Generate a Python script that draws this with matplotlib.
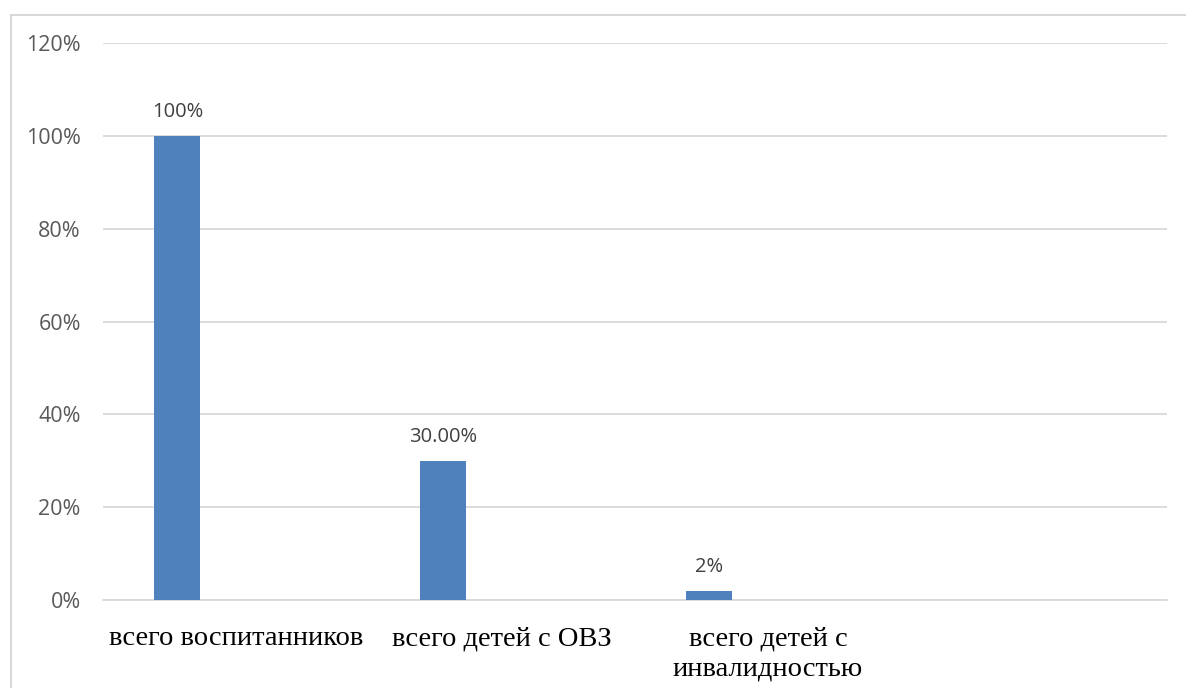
import matplotlib
matplotlib.use("Agg")
import matplotlib.pyplot as plt
from matplotlib.patches import Rectangle

categories = ["всего воспитанников", "всего детей с ОВЗ", "всего детей с\nинвалидностью", ""]
values = [1.00, 0.30, 0.02, None]
value_labels = ["100%", "30.00%", "2%", ""]
yticks = [0, 0.2, 0.4, 0.6, 0.8, 1.0, 1.2]
ytick_labels = ["0%", "20%", "40%", "60%", "80%", "100%", "120%"]

W, H = 1186, 688
fig = plt.figure(figsize=(W/100, H/100), dpi=100)
fig.patch.set_facecolor("white")
# outer chart border
fig.patches.append(Rectangle((10.5/W, -0.01), 1.2, (H-14.5)/H + 0.01, transform=fig.transFigure,
                             fill=False, edgecolor="#d9d9d9", linewidth=1.5))

ax = fig.add_axes([103/W, (H-600)/H, (1167-103)/W, (600-43)/H])
xs = list(range(len(categories)))
offset = -0.22
bw = 0.173
for i, v in enumerate(values):
    if v is None:
        continue
    ax.bar(i + offset, v, width=bw, color="#4f81bd", zorder=3)
    ax.text(i + offset, v + 0.03, value_labels[i], ha="center", va="bottom",
            fontsize=14.5, color="#404040", family="Open Sans")

ax.set_xlim(-0.5, len(categories) - 0.5)
ax.set_ylim(0, 1.2)
ax.set_yticks(yticks)
ax.set_yticklabels(ytick_labels, fontsize=15.5, color="#595959", family="Open Sans")
ax.yaxis.grid(True, color="#d9d9d9", linewidth=1.3, zorder=0)
ax.tick_params(axis="y", length=0, pad=16)
ax.tick_params(axis="x", length=0, pad=19)
ax.set_xticks(xs)
ax.set_xticklabels(categories, fontsize=20.5, family="Liberation Serif", color="#000000", va="top",
                   linespacing=1.25)
for s in ["top", "right", "left"]:
    ax.spines[s].set_visible(False)
ax.spines["bottom"].set_color("#d9d9d9")
ax.spines["bottom"].set_linewidth(1.3)

fig.savefig("out.png", dpi=100)
